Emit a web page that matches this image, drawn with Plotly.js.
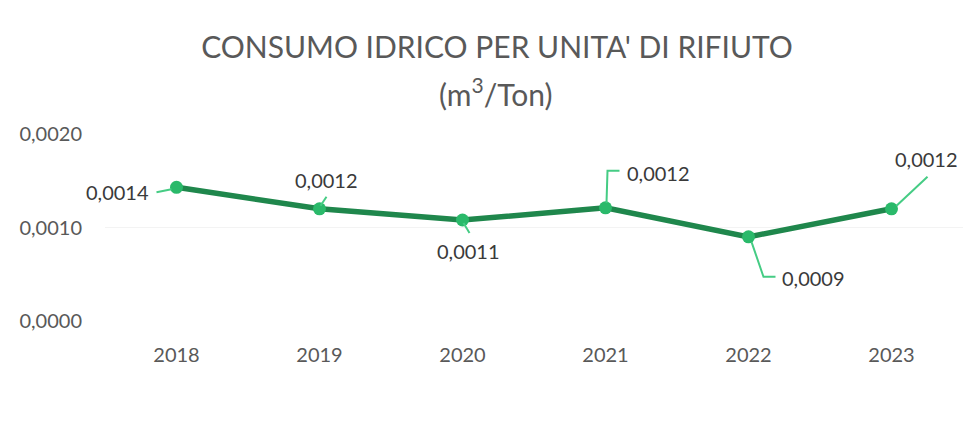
<!DOCTYPE html>
<html>
<head>
<meta charset="utf-8">
<script src="https://cdn.plot.ly/plotly-3.0.1.min.js"></script>
<style>html,body{margin:0;padding:0;background:#fff;}#chart{width:965px;height:446px;}</style>
</head>
<body>
<div id="chart"></div>
<script>
// Data
const years = ['2018', '2019', '2020', '2021', '2022', '2023'];
const consumo = [0.00143, 0.0012, 0.00108, 0.00121, 0.0009, 0.0012];
const yTicks = [0, 0.001, 0.002];

// Label placement (pixel offsets of label relative to its point) and leader paths
const labelOffsets = [[-59, -5], [7, 29], [6, -31], [53, 35], [65, -41], [35, 50]];
const leaderPaths = [
  'M -20,-5 L -5,-2',
  'M 1,3 L 7,12',
  'M 1,-3 L 7,-13',
  'M 1,5 L 2,37 L 14,37',
  'M 3,-5 L 15,-40 L 27,-40',
  'M 5,3 L 36,32'
];

const fmt = v => v.toFixed(4).replace('.', ',');
const FONT = 'Lato, "Open Sans", sans-serif';

const trace = {
  x: years,
  y: consumo,
  type: 'scatter',
  mode: 'lines+markers',
  line: {color: '#1f874c', width: 5.5},
  marker: {color: '#2ab96a', size: 13},
  hoverinfo: 'x+y'
};

// category axis: annotations/shapes use the category serial number
const annotations = years.map((yr, i) => ({
  x: i, y: consumo[i], xref: 'x', yref: 'y',
  text: fmt(consumo[i]),
  showarrow: false,
  xanchor: 'center', yanchor: 'middle',
  xshift: labelOffsets[i][0], yshift: labelOffsets[i][1],
  font: {family: FONT, size: 20, color: '#3a3a3a'}
}));
annotations.push({
  xref: 'paper', yref: 'paper', x: 0.456, y: 1.225,
  xanchor: 'center', yanchor: 'middle', showarrow: false,
  text: '(m<sup>3</sup>/Ton)',
  font: {family: FONT, size: 30, color: '#595959'}
});

const shapes = years.map((yr, i) => ({
  type: 'path',
  xref: 'x', yref: 'y',
  xsizemode: 'pixel', ysizemode: 'pixel',
  xanchor: i, yanchor: consumo[i],
  path: leaderPaths[i],
  line: {color: '#45cc84', width: 2}
}));

const layout = {
  width: 965, height: 446,
  margin: {l: 105, r: 2, t: 134, b: 125},
  paper_bgcolor: '#ffffff', plot_bgcolor: '#ffffff',
  separators: ',.',
  showlegend: false,
  title: {
    text: "CONSUMO IDRICO PER UNITA' DI RIFIUTO",
    xref: 'container', x: 0.515, xanchor: 'center',
    yref: 'container', y: 0.893, yanchor: 'middle',
    font: {family: FONT, size: 30, color: '#595959'}
  },
  xaxis: {
    type: 'category',
    categoryorder: 'array', categoryarray: years,
    range: [-0.5, years.length - 0.5],
    autorange: false,
    showgrid: false, zeroline: false, showline: false, ticks: '',
    ticklabelstandoff: 20,
    tickfont: {family: FONT, size: 20, color: '#595959'}
  },
  yaxis: {
    range: [0, 0.002],
    autorange: false,
    tickvals: yTicks,
    tickformat: '.4f',
    showgrid: true, gridcolor: '#f3f3f3', gridwidth: 1,
    zeroline: false, showline: false, ticks: '',
    ticklabelstandoff: 22,
    tickfont: {family: FONT, size: 20, color: '#595959'}
  },
  annotations: annotations,
  shapes: shapes
};

Plotly.newPlot('chart', [trace], layout, {displayModeBar: false, staticPlot: true});
</script>
</body>
</html>
